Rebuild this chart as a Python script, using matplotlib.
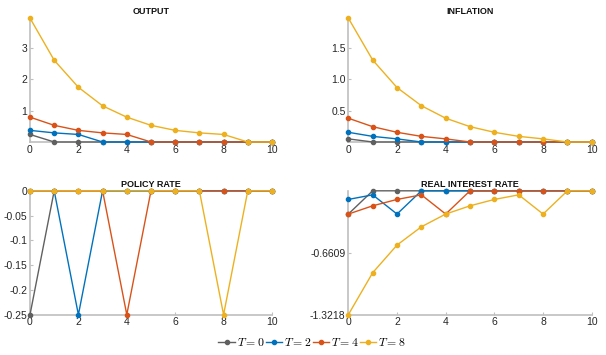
import matplotlib.pyplot as plt
import numpy as np

plt.rcParams['font.family'] = ['Liberation Sans', 'DejaVu Sans']
plt.rcParams['mathtext.fontset'] = 'cm'

# horizon
t = np.arange(0, 11)
labels = ['$T = 0$', '$T = 2$', '$T = 4$', '$T = 8$']
colors = ['#606060', '#0072BD', '#D95319', '#EDB120']

# OUTPUT
output_T0 = [0.24, 0, 0, 0, 0, 0, 0, 0, 0, 0, 0]
output_T2 = [0.37, 0.29, 0.24, 0, 0, 0, 0, 0, 0, 0, 0]
output_T4 = [0.79, 0.53, 0.37, 0.29, 0.24, 0, 0, 0, 0, 0, 0]
output_T8 = [3.94, 2.60, 1.74, 1.15, 0.79, 0.53, 0.37, 0.29, 0.24, 0, 0]

# INFLATION
infl_T0 = [0.05, 0, 0, 0, 0, 0, 0, 0, 0, 0, 0]
infl_T2 = [0.155, 0.09, 0.05, 0, 0, 0, 0, 0, 0, 0, 0]
infl_T4 = [0.38, 0.245, 0.155, 0.09, 0.05, 0, 0, 0, 0, 0, 0]
infl_T8 = [1.98, 1.31, 0.87, 0.58, 0.38, 0.245, 0.155, 0.09, 0.05, 0, 0]

# POLICY RATE
rate_T0 = [-0.25, 0, 0, 0, 0, 0, 0, 0, 0, 0, 0]
rate_T2 = [0, 0, -0.25, 0, 0, 0, 0, 0, 0, 0, 0]
rate_T4 = [0, 0, 0, 0, -0.25, 0, 0, 0, 0, 0, 0]
rate_T8 = [0, 0, 0, 0, 0, 0, 0, 0, -0.25, 0, 0]

# REAL INTEREST RATE
real_T0 = [-0.248, 0, 0, 0, 0, 0, 0, 0, 0, 0, 0]
real_T2 = [-0.092, -0.043, -0.248, 0, 0, 0, 0, 0, 0, 0, 0]
real_T4 = [-0.248, -0.16, -0.092, -0.043, -0.248, 0, 0, 0, 0, 0, 0]
real_T8 = [-1.3218, -0.874, -0.579, -0.384, -0.248, -0.16, -0.092, -0.043, -0.248, 0, 0]

panels = [
    ('OUTPUT', [output_T0, output_T2, output_T4, output_T8], (0, 3.94), [1, 2, 3], None),
    ('INFLATION', [infl_T0, infl_T2, infl_T4, infl_T8], (0, 1.98), [0.5, 1, 1.5], None),
    ('POLICY RATE', [rate_T0, rate_T2, rate_T4, rate_T8], (-0.25, 0),
     [-0.25, -0.2, -0.15, -0.1, -0.05, 0], ['-0.25', '-0.2', '-0.15', '-0.1', '-0.05', '0']),
    ('REAL INTEREST RATE', [real_T0, real_T2, real_T4, real_T8], (-1.3218, 0),
     [-1.3218, -0.6609], ['-1.3218', '-0.6609']),
]

positions = [
    [0.0495, 0.600, 0.3993, 0.349],
    [0.5748, 0.600, 0.4017, 0.349],
    [0.0495, 0.1135, 0.3993, 0.349],
    [0.5748, 0.1135, 0.4017, 0.349],
]

fig = plt.figure(figsize=(6.06, 3.55), dpi=100)
handles = []
for pos, (title, series, ylim, yticks, yticklabels) in zip(positions, panels):
    ax = fig.add_axes(pos)
    lines = []
    for s, c, lab in zip(series, colors, labels):
        ln, = ax.plot(t, s, color=c, lw=1.0, marker='o', ms=3, mfc=c, mec=c,
                      label=lab, clip_on=False, zorder=3)
        lines.append(ln)
    handles = lines
    ax.set_xlim(0, 10)
    ax.set_ylim(*ylim)
    ax.set_xticks([0, 2, 4, 6, 8, 10])
    ax.set_yticks(yticks)
    if yticklabels is not None:
        ax.set_yticklabels(yticklabels)
    ax.set_title(title, fontsize=6.5, fontweight='bold', pad=3, color='#111111')
    for sp in ['top', 'right']:
        ax.spines[sp].set_visible(False)
    for sp in ['left', 'bottom']:
        ax.spines[sp].set_color('#bfbfbf')
        ax.spines[sp].set_linewidth(1.2)
    ax.tick_params(direction='in', length=2.5, width=0.8, color='#bfbfbf',
                   labelsize=7.5, labelcolor='#262626', pad=2)
    ax.patch.set_visible(False)

fig.legend(handles, labels, loc='center', bbox_to_anchor=(0.515, 0.034),
           ncol=4, frameon=False, fontsize=8.5, handlelength=1.4,
           handletextpad=0.15, columnspacing=0.1, numpoints=1, borderpad=0)

fig.savefig('out.png', dpi=100)
